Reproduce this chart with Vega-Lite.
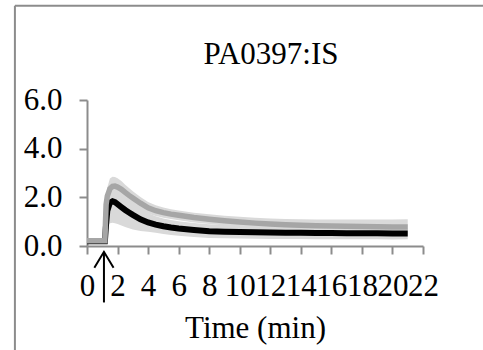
{
  "$schema": "https://vega.github.io/schema/vega-lite/v6.json",
  "autosize": "none",
  "padding": {"left": 87, "top": 100, "right": 60, "bottom": 104},
  "width": 336,
  "height": 146,
  "background": "white",
  "title": {"text": "PA0397:IS", "font": "Liberation Serif", "fontSize": 31, "fontWeight": "normal", "color": "black", "frame": "group", "anchor": "middle", "baseline": "alphabetic", "offset": -90, "dx": 16},
  "config": {
    "view": {"stroke": null},
    "axis": {"grid": false, "domainColor": "#8c8c8c", "domainWidth": 2, "tickColor": "#8c8c8c", "tickWidth": 2, "tickSize": 8,
      "labelFont": "Liberation Serif", "labelFontSize": 31, "labelColor": "black", "labelPadding": 17, "labelOverlap": false, "labelFlush": false,
      "titleFont": "Liberation Serif", "titleFontSize": 31, "titleFontWeight": "normal", "titleColor": "black", "titlePadding": 12}
  },
  "datasets": {"series": [
    {"t": 0, "s": "g", "m": 0.22, "lo": 0.17, "hi": 0.27},
    {"t": 0.5, "s": "g", "m": 0.22, "lo": 0.17, "hi": 0.27},
    {"t": 1.0, "s": "g", "m": 0.22, "lo": 0.17, "hi": 0.27},
    {"t": 1.17, "s": "g", "m": 0.22, "lo": 0.17, "hi": 0.27},
    {"t": 1.25, "s": "g", "m": 1.7, "lo": 1.4, "hi": 2.0},
    {"t": 1.33, "s": "g", "m": 2.05, "lo": 1.7, "hi": 2.4},
    {"t": 1.5, "s": "g", "m": 2.35, "lo": 1.93, "hi": 2.77},
    {"t": 1.67, "s": "g", "m": 2.45, "lo": 2.05, "hi": 2.85},
    {"t": 1.83, "s": "g", "m": 2.46, "lo": 2.08, "hi": 2.84},
    {"t": 2.0, "s": "g", "m": 2.42, "lo": 2.06, "hi": 2.78},
    {"t": 2.25, "s": "g", "m": 2.33, "lo": 1.99, "hi": 2.67},
    {"t": 2.5, "s": "g", "m": 2.2, "lo": 1.88, "hi": 2.52},
    {"t": 2.75, "s": "g", "m": 2.08, "lo": 1.78, "hi": 2.38},
    {"t": 3, "s": "g", "m": 1.97, "lo": 1.69, "hi": 2.25},
    {"t": 3.5, "s": "g", "m": 1.76, "lo": 1.51, "hi": 2.01},
    {"t": 4, "s": "g", "m": 1.57, "lo": 1.33, "hi": 1.81},
    {"t": 4.5, "s": "g", "m": 1.45, "lo": 1.23, "hi": 1.67},
    {"t": 5, "s": "g", "m": 1.37, "lo": 1.16, "hi": 1.58},
    {"t": 5.5, "s": "g", "m": 1.31, "lo": 1.11, "hi": 1.51},
    {"t": 6, "s": "g", "m": 1.26, "lo": 1.06, "hi": 1.46},
    {"t": 7, "s": "g", "m": 1.17, "lo": 0.97, "hi": 1.37},
    {"t": 8, "s": "g", "m": 1.1, "lo": 0.9, "hi": 1.3},
    {"t": 9, "s": "g", "m": 1.04, "lo": 0.84, "hi": 1.24},
    {"t": 10, "s": "g", "m": 0.99, "lo": 0.78, "hi": 1.2},
    {"t": 11, "s": "g", "m": 0.94, "lo": 0.72, "hi": 1.16},
    {"t": 12, "s": "g", "m": 0.9, "lo": 0.67, "hi": 1.13},
    {"t": 13, "s": "g", "m": 0.87, "lo": 0.63, "hi": 1.11},
    {"t": 14, "s": "g", "m": 0.85, "lo": 0.6, "hi": 1.1},
    {"t": 15, "s": "g", "m": 0.83, "lo": 0.57, "hi": 1.09},
    {"t": 16, "s": "g", "m": 0.82, "lo": 0.55, "hi": 1.09},
    {"t": 17, "s": "g", "m": 0.81, "lo": 0.53, "hi": 1.09},
    {"t": 18, "s": "g", "m": 0.8, "lo": 0.51, "hi": 1.09},
    {"t": 19, "s": "g", "m": 0.79, "lo": 0.49, "hi": 1.09},
    {"t": 20, "s": "g", "m": 0.78, "lo": 0.47, "hi": 1.09},
    {"t": 21, "s": "g", "m": 0.78, "lo": 0.46, "hi": 1.1},
    {"t": 0, "s": "b", "m": 0.2, "lo": 0.15, "hi": 0.25},
    {"t": 0.5, "s": "b", "m": 0.2, "lo": 0.15, "hi": 0.25},
    {"t": 1.0, "s": "b", "m": 0.2, "lo": 0.15, "hi": 0.25},
    {"t": 1.17, "s": "b", "m": 0.2, "lo": 0.15, "hi": 0.25},
    {"t": 1.25, "s": "b", "m": 0.9, "lo": 0.4, "hi": 1.4},
    {"t": 1.33, "s": "b", "m": 1.45, "lo": 0.75, "hi": 2.15},
    {"t": 1.5, "s": "b", "m": 1.78, "lo": 0.93, "hi": 2.63},
    {"t": 1.67, "s": "b", "m": 1.84, "lo": 0.96, "hi": 2.72},
    {"t": 1.83, "s": "b", "m": 1.8, "lo": 0.94, "hi": 2.66},
    {"t": 2.0, "s": "b", "m": 1.72, "lo": 0.9, "hi": 2.54},
    {"t": 2.25, "s": "b", "m": 1.6, "lo": 0.84, "hi": 2.36},
    {"t": 2.5, "s": "b", "m": 1.48, "lo": 0.78, "hi": 2.18},
    {"t": 2.75, "s": "b", "m": 1.38, "lo": 0.73, "hi": 2.03},
    {"t": 3, "s": "b", "m": 1.28, "lo": 0.68, "hi": 1.88},
    {"t": 3.5, "s": "b", "m": 1.1, "lo": 0.62, "hi": 1.58},
    {"t": 4, "s": "b", "m": 0.97, "lo": 0.59, "hi": 1.35},
    {"t": 4.5, "s": "b", "m": 0.88, "lo": 0.54, "hi": 1.22},
    {"t": 5, "s": "b", "m": 0.81, "lo": 0.49, "hi": 1.13},
    {"t": 5.5, "s": "b", "m": 0.76, "lo": 0.45, "hi": 1.07},
    {"t": 6, "s": "b", "m": 0.72, "lo": 0.42, "hi": 1.02},
    {"t": 7, "s": "b", "m": 0.66, "lo": 0.37, "hi": 0.95},
    {"t": 8, "s": "b", "m": 0.61, "lo": 0.33, "hi": 0.89},
    {"t": 9, "s": "b", "m": 0.59, "lo": 0.32, "hi": 0.86},
    {"t": 10, "s": "b", "m": 0.58, "lo": 0.31, "hi": 0.85},
    {"t": 11, "s": "b", "m": 0.56, "lo": 0.3, "hi": 0.82},
    {"t": 12, "s": "b", "m": 0.55, "lo": 0.29, "hi": 0.81},
    {"t": 13, "s": "b", "m": 0.54, "lo": 0.29, "hi": 0.79},
    {"t": 14, "s": "b", "m": 0.54, "lo": 0.29, "hi": 0.79},
    {"t": 15, "s": "b", "m": 0.53, "lo": 0.28, "hi": 0.78},
    {"t": 16, "s": "b", "m": 0.53, "lo": 0.28, "hi": 0.78},
    {"t": 17, "s": "b", "m": 0.52, "lo": 0.28, "hi": 0.76},
    {"t": 18, "s": "b", "m": 0.52, "lo": 0.28, "hi": 0.76},
    {"t": 19, "s": "b", "m": 0.52, "lo": 0.28, "hi": 0.76},
    {"t": 20, "s": "b", "m": 0.51, "lo": 0.27, "hi": 0.75},
    {"t": 21, "s": "b", "m": 0.51, "lo": 0.28, "hi": 0.74}
  ]},
  "layer": [
    {"data": {"name": "series"}, "transform": [{"filter": "datum.s === 'b'"}], "mark": {"type": "area", "color": "#d9d9d9"},
     "encoding": {
       "x": {"field": "t", "type": "quantitative", "scale": {"domain": [0, 22], "nice": false},
         "axis": {"title": "Time (min)", "values": [0,2,4,6,8,10,12,14,16,18,20,22]}},
       "y": {"field": "lo", "type": "quantitative", "scale": {"domain": [0, 6], "nice": false},
         "axis": {"title": null, "values": [0,2,4,6], "format": ".1f"}},
       "y2": {"field": "hi"}}},
    {"data": {"name": "series"}, "transform": [{"filter": "datum.s === 'g'"}], "mark": {"type": "area", "color": "#d9d9d9"},
     "encoding": {
       "x": {"field": "t", "type": "quantitative", "axis": {"title": "Time (min)", "values": [0,2,4,6,8,10,12,14,16,18,20,22]}},
       "y": {"field": "lo", "type": "quantitative", "axis": {"title": null, "values": [0,2,4,6], "format": ".1f"}},
       "y2": {"field": "hi"}}},
    {"data": {"name": "series"}, "transform": [{"filter": "datum.s === 'b'"}], "mark": {"type": "line", "color": "black", "strokeWidth": 6},
     "encoding": {
       "x": {"field": "t", "type": "quantitative", "axis": {"title": "Time (min)", "values": [0,2,4,6,8,10,12,14,16,18,20,22]}},
       "y": {"field": "m", "type": "quantitative", "axis": {"title": null, "values": [0,2,4,6], "format": ".1f"}}}},
    {"data": {"name": "series"}, "transform": [{"filter": "datum.s === 'g'"}], "mark": {"type": "line", "color": "#a6a6a6", "strokeWidth": 5.5},
     "encoding": {
       "x": {"field": "t", "type": "quantitative", "axis": {"title": "Time (min)", "values": [0,2,4,6,8,10,12,14,16,18,20,22]}},
       "y": {"field": "m", "type": "quantitative", "axis": {"title": null, "values": [0,2,4,6], "format": ".1f"}}}},
    {"data": {"values": [{"note": "injection"}]}, "mark": {"type": "rule", "color": "black", "strokeWidth": 2, "clip": false},
     "encoding": {
       "x": {"datum": 1.11, "type": "quantitative", "axis": {"title": "Time (min)", "values": [0,2,4,6,8,10,12,14,16,18,20,22]}},
       "y": {"datum": -0.24, "type": "quantitative", "axis": {"title": null, "values": [0,2,4,6], "format": ".1f"}},
       "y2": {"datum": -2.32}}},
    {"data": {"values": [{"note": "injection"}]}, "mark": {"type": "point", "shape": "M-0.6,1L0,0L0.6,1", "filled": false, "color": "black", "strokeWidth": 2, "size": 1024, "opacity": 1, "clip": false},
     "encoding": {
       "x": {"datum": 1.11, "type": "quantitative", "axis": {"title": "Time (min)", "values": [0,2,4,6,8,10,12,14,16,18,20,22]}},
       "y": {"datum": -0.24, "type": "quantitative", "axis": {"title": null, "values": [0,2,4,6], "format": ".1f"}}}},
    {"data": {"values": [{"note": "frame"}]}, "mark": {"type": "rule", "color": "#8c8c8c", "strokeWidth": 2, "clip": false},
     "encoding": {
       "x": {"datum": -4.72, "type": "quantitative", "axis": {"title": "Time (min)", "values": [0,2,4,6,8,10,12,14,16,18,20,22]}},
       "y": {"datum": 9.87, "type": "quantitative", "axis": {"title": null, "values": [0,2,4,6], "format": ".1f"}},
       "y2": {"datum": -5}}},
    {"data": {"values": [{"note": "frame"}]}, "mark": {"type": "rule", "color": "#8c8c8c", "strokeWidth": 2, "clip": false},
     "encoding": {
       "y": {"datum": 9.87, "type": "quantitative", "axis": {"title": null, "values": [0,2,4,6], "format": ".1f"}},
       "x": {"datum": -4.72, "type": "quantitative", "axis": {"title": "Time (min)", "values": [0,2,4,6,8,10,12,14,16,18,20,22]}},
       "x2": {"datum": 26}}}
  ]
}
